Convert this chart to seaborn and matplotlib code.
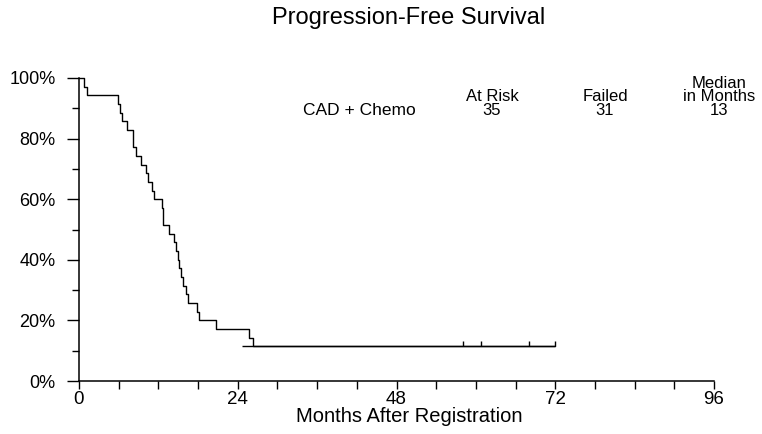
import numpy as np
import pandas as pd
import matplotlib
matplotlib.use("Agg")
import matplotlib.pyplot as plt
import seaborn as sns
from matplotlib.ticker import MultipleLocator, FixedLocator

# ---- data ----
n_at_risk = 35
event_times = [0.75, 1.15, 5.95, 6.15, 6.45, 7.2, 8.1, 8.2, 8.6, 9.35, 10.1,
               10.5, 11.1, 11.4, 12.5, 12.65, 12.75, 13.6, 14.35, 14.65, 15.0,
               15.1, 15.4, 15.75, 16.15, 16.5, 17.9, 18.2, 20.65, 25.7, 26.25]
censor_times = [58.0, 60.7, 68.0, 72.0]
tail_from = 24.6
group_label = "CAD + Chemo"
col_headers = [["At Risk"], ["Failed"], ["Median", "in Months"]]
col_values = ["35", "31", "13"]
x_ticks = [0, 24, 48, 72, 96]
y_ticks = [0, 20, 40, 60, 80, 100]
title = "Progression-Free Survival"
xlabel = "Months After Registration"

# ---- Kaplan-Meier steps ----
surv = 100.0
at_risk = n_at_risk
times = [0.0]
survs = [100.0]
for t in sorted(event_times):
    surv = surv * (at_risk - 1) / at_risk
    at_risk -= 1
    times.append(t)
    survs.append(surv)
times.append(max(censor_times))
survs.append(surv)
df = pd.DataFrame({"time": times, "surv": survs})

sns.set_theme(style="ticks")
plt.rcParams["font.family"] = ["Liberation Sans", "DejaVu Sans"]

W, H = 762, 434
fig = plt.figure(figsize=(W / 100, H / 100), dpi=100)
ax = fig.add_axes([79 / W, 1 - 381 / H, (714 - 79) / W, (381 - 78) / H])

sns.lineplot(data=df, x="time", y="surv", drawstyle="steps-post",
             estimator=None, sort=False, color="black", linewidth=1.0,
             ax=ax, clip_on=False)
# final plateau drawn from tail_from
ax.hlines(surv, tail_from, max(censor_times), color="black", linewidth=1.0,
          clip_on=False)
# censor marks
ax.vlines(censor_times, surv, surv + 1.8, color="black", linewidth=1.0,
          clip_on=False)

ax.set_xlim(0, 96)
ax.set_ylim(0, 100)
ax.xaxis.set_major_locator(FixedLocator(x_ticks))
ax.xaxis.set_minor_locator(MultipleLocator(6))
ax.yaxis.set_major_locator(FixedLocator(y_ticks))
ax.yaxis.set_minor_locator(MultipleLocator(10))
ax.set_xticklabels([str(v) for v in x_ticks], fontsize=13.5)
ax.set_yticklabels([f"{v}%" for v in y_ticks], fontsize=13)
ax.tick_params(axis="x", which="both", direction="out", length=6, width=1,
               color="black", pad=1, labelcolor="black")
ax.tick_params(axis="y", which="major", direction="out", length=9, width=1,
               color="black", pad=8, labelcolor="black")
ax.tick_params(axis="y", which="minor", direction="out", length=5, width=1,
               color="black")
for s in ["top", "right"]:
    ax.spines[s].set_visible(False)
for s in ["left", "bottom"]:
    ax.spines[s].set_color("black")
    ax.spines[s].set_linewidth(1.1)
ax.set_xlabel("")
ax.set_ylabel("")

fig.text(409 / W, 1 - 24 / H, title, ha="center", va="baseline",
         fontsize=17, color="black")
fig.text(409 / W, 1 - 422 / H, xlabel, ha="center", va="baseline",
         fontsize=14.5, color="black")

fs = 12
fig.text(359 / W, 1 - 115 / H, group_label, ha="center", va="baseline",
         fontsize=12.5, color="black")
col_x = [492, 605, 719]
for cx, hdr, val in zip(col_x, col_headers, col_values):
    fig.text(cx / W, 1 - 115 / H, val, ha="center", va="baseline",
             fontsize=fs, color="black")
    for i, line in enumerate(reversed(hdr)):
        fig.text(cx / W, 1 - (101 - 13.5 * i) / H, line, ha="center",
                 va="baseline", fontsize=fs, color="black")

fig.savefig("out.png", dpi=100, facecolor="white")
